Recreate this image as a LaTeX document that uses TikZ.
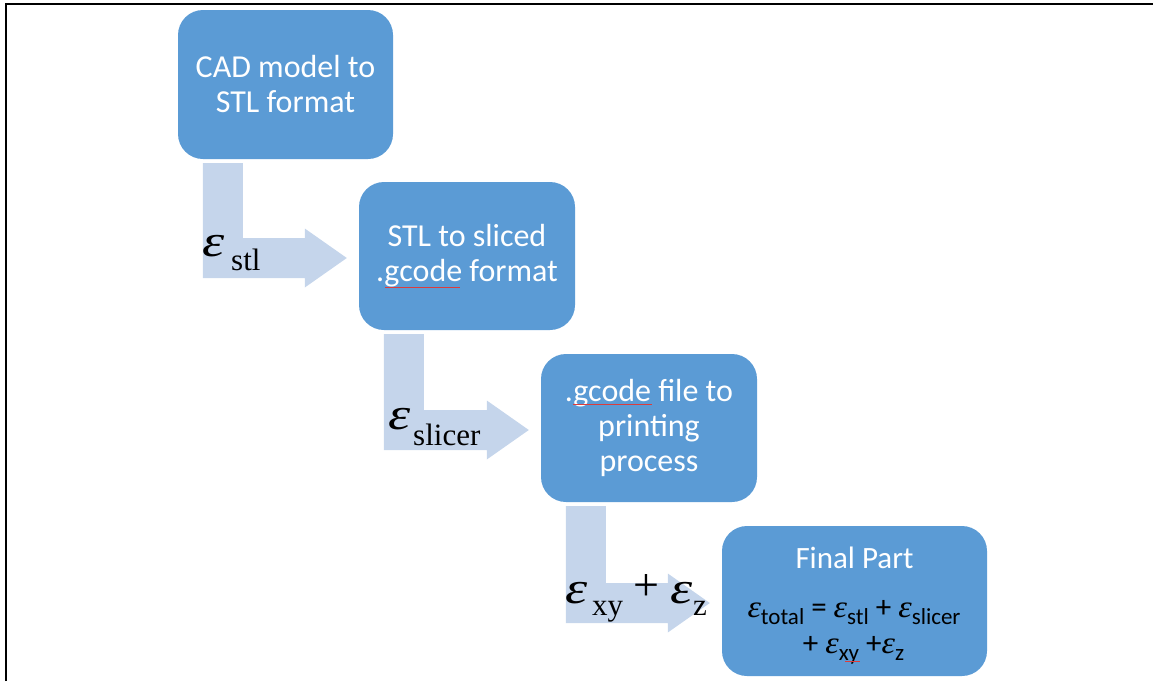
\documentclass[tikz,border=0pt]{standalone}
\usepackage{fontspec}
\usepackage{graphicx}
\usetikzlibrary{calc}
\newfontfamily\calfont{Carlito}
\newfontfamily\timesfont{Liberation Serif}
\definecolor{boxblue}{RGB}{91,155,213}
\definecolor{arrowblue}{RGB}{197,213,235}
\definecolor{spellred}{RGB}{220,60,60}
\newcommand\bigeps[1]{{\timesfont\itshape\fontsize{#1}{#1}\selectfont ε}}
\newcommand\labeps{\scalebox{1.25}[1]{\bigeps{45}}}
\newcommand\fe{\scalebox{1.1}[1]{\bigeps{31}}}
\newcommand\fs[1]{\raisebox{-7.5pt}{\fontsize{23}{23}\selectfont #1}}
\newcommand\flowarrow[2]{%
  \path ($(#1.south west)+(25,4)$) coordinate (#1-s1)
        ($(#1.south west)+(65,4)$) coordinate (#1-s2)
        ($(#2.west)+(-54,-18)$) coordinate (#1-bt)
        ($(#2.west)+(-54,22)$) coordinate (#1-bb)
        ($(#2.west)+(-54,-27.5)$) coordinate (#1-ht)
        ($(#2.west)+(-54,31.5)$) coordinate (#1-hb)
        ($(#2.west)+(-12,2)$) coordinate (#1-tip);
  \fill[arrowfill] (#1-s1) -- (#1-s2) -- (#1-s2 |- #1-bt) -- (#1-bt) -- (#1-ht)
     -- (#1-tip) -- (#1-hb) -- (#1-bb) -- (#1-s1 |- #1-bb) -- cycle;}
\tikzset{
  stage/.style={fill=boxblue, rounded corners=25pt, text=white, align=center,
    font=\calfont\fontsize{32}{35}\selectfont, inner sep=0pt},
  arrowfill/.style={fill=arrowblue},
  lbl/.style={anchor=base west, inner sep=0pt, text=black},
  sublbl/.style={lbl, font=\timesfont\fontsize{31}{31}\selectfont},
  inbox/.style={anchor=base, inner sep=0pt, text=black, font=\calfont\fontsize{31}{31}\selectfont},
  spell/.style={draw=spellred, line width=0.7pt},
}
\begin{document}
\begin{tikzpicture}[x=1pt,y=-1pt]
\useasboundingbox (0,0) rectangle (1153,681);
\draw[line width=2pt] (6,681) -- (6,4) -- (1153,4);

\node[stage, minimum width=215pt, minimum height=149pt] (cad) at (285.5,84.5) {CAD model to\\STL format};
\node[stage, minimum width=216pt, minimum height=148pt] (stl) at (467,256) {STL to sliced\\.gcode format};
\node[stage, minimum width=216pt, minimum height=148pt] (gcode) at (649,428) {.gcode file to\\printing\\process};
\node[stage, minimum width=265pt, minimum height=150pt] (final) at (854.5,601) {};
\node[anchor=base, inner sep=0pt, text=white, font=\calfont\fontsize{31}{31}\selectfont] (finaltitle) at (854.5,568) {Final Part};
\node[inbox] (f1) at (854,617) {\fe\fs{total} = \fe\fs{stl} + \fe\fs{slicer}};
\node[inbox] (f2) at (853.5,653) {+ \fe\fs{xy} +\fe\fs{z}};

\flowarrow{cad}{stl}
\flowarrow{stl}{gcode}
\flowarrow{gcode}{final}

\node[lbl] (e1) at (202,256) {\labeps};
\node[sublbl] (e1s) at (231,270) {stl};
\node[lbl] (e2) at (388,429) {\labeps};
\node[sublbl] (e2s) at (413,445) {slicer};
\node[lbl] (e3) at (565,603) {\labeps};
\node[sublbl] (e3s) at (592,615) {xy};
\node[inner sep=0pt, font=\timesfont\fontsize{46}{46}\selectfont] (plus) at (646.5,587) {+};
\node[lbl] (e4) at (670,603) {\labeps};
\node[sublbl] (e4s) at (693,615) {z};

\draw[spell] (385,287) -- (460,287);
\draw[spell] (573,404) -- (652,404);
\draw[spell] (845,661) -- (860,661);
\end{tikzpicture}
\end{document}
